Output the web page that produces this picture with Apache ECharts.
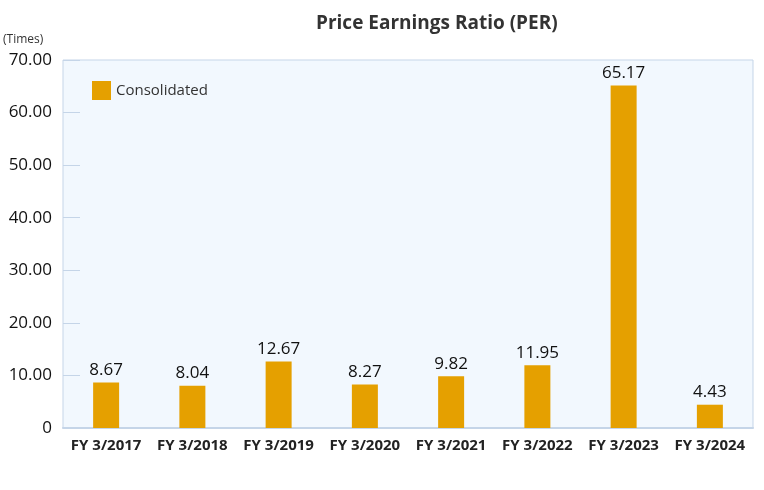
<!DOCTYPE html>
<html><head><meta charset="utf-8">
<script src="https://cdn.jsdelivr.net/npm/echarts@6/dist/echarts.min.js"></script>
<style>html,body{margin:0;padding:0;background:#fff}#c{width:764px;height:490px}</style>
</head><body><div id="c"></div>
<script>
const categories = ['FY 3/2017','FY 3/2018','FY 3/2019','FY 3/2020','FY 3/2021','FY 3/2022','FY 3/2023','FY 3/2024'];
const perValues = [8.67, 8.04, 12.67, 8.27, 9.82, 11.95, 65.17, 4.43];
const seriesName = 'Consolidated';
const chart = echarts.init(document.getElementById('c'));
const font = '"Open Sans", "Noto Sans", sans-serif';
chart.setOption({
  animation: false,
  title: {text: 'Price Earnings Ratio (PER)', left: 311, top: 9,
    textStyle: {fontFamily: font, fontSize: 19, fontWeight: 'bold', color: '#333'}},
  legend: {data: [{name: seriesName, icon: 'rect'}], left: 87, top: 76, itemWidth: 19, itemHeight: 19, itemGap: 12,
    textStyle: {fontFamily: font, fontSize: 15, color: '#333'}},
  grid: {left: 63, right: 11, top: 60, bottom: 62, show: true, backgroundColor: '#f2f8fe', borderColor: '#c5d5e8', borderWidth: 1},
  xAxis: {type: 'category', data: categories,
    axisLine: {lineStyle: {color: '#c5d5e8', width: 2}}, axisTick: {show: false},
    axisLabel: {interval: 0, fontFamily: font, fontSize: 15, fontWeight: 'bold', color: '#222', margin: 10}},
  yAxis: {type: 'value', min: 0, max: 70, interval: 10, name: '(Times)',
    nameLocation: 'end', nameGap: 14, nameTextStyle: {fontFamily: font, fontSize: 12, color: '#333', align: 'left', padding: [0,0,0,-60]},
    axisLine: {show: false}, splitLine: {show: false},
    axisTick: {show: true, inside: true, length: 17, lineStyle: {color: '#c5d5e8'}},
    axisLabel: {fontFamily: font, fontSize: 17, color: '#111', margin: 11,
      formatter: v => v === 0 ? '0' : v.toFixed(2)}},
  series: [{name: seriesName, type: 'bar', data: perValues, barWidth: 26,
    itemStyle: {color: '#e5a000'},
    label: {show: true, position: 'top', fontFamily: font, fontSize: 17, color: '#111', distance: 4,
      formatter: p => p.value.toFixed(2)}}]
});
</script></body></html>
